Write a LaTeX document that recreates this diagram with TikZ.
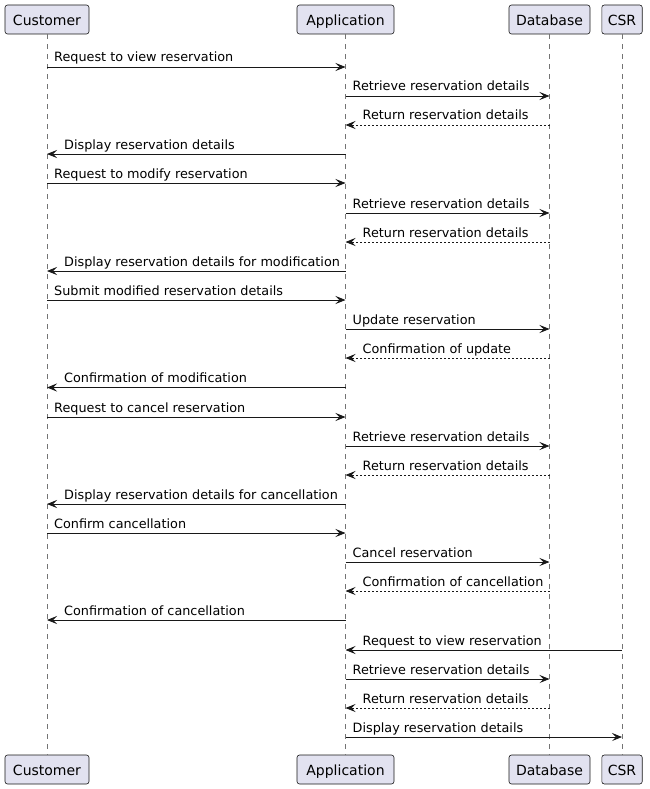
\documentclass[tikz,border=0pt]{standalone}
\usepackage{fontspec}
\setmainfont{DejaVu Sans}
\usepackage{tikz}
\usetikzlibrary{arrows.meta}

\definecolor{partfill}{HTML}{E2E2F0}
\definecolor{ink}{HTML}{181818}

\tikzset{
  participant/.style={draw=ink, fill=partfill, line width=0.6pt, rounded corners=2.5pt,
    minimum height=29pt, inner xsep=6pt, text height=12pt, text depth=0pt,
    font=\fontsize{14}{16}\selectfont},
  lifeline/.style={draw=ink!60, line width=0.5pt, dash pattern=on 5pt off 5pt},
  msg/.style={draw=ink, line width=0.8pt, -{Stealth[length=10pt,width=8pt,inset=4pt]}},
  reply/.style={msg, dash pattern=on 2pt off 2pt},
  msgtext/.style={inner sep=0pt, anchor=base west, text=black, font=\fontsize{12.8}{15}\selectfont},
}

% message left to right: [style]{name}{from}{to}{y}{text}
\newcommand{\msgright}[6][msg]{%
  \coordinate (#2s) at (#3 |- 0,#5);
  \coordinate (#2e) at (#4 |- 0,#5);
  \draw[#1] (#2s) -- (#2e);
  \node[msgtext, xshift=7pt, yshift=5pt] (#2t) at (#2s) {#6};
}
% message right to left: [style]{name}{from}{to}{y}{text}
\newcommand{\msgleft}[6][msg]{%
  \coordinate (#2s) at (#3 |- 0,#5);
  \coordinate (#2e) at (#4 |- 0,#5);
  \draw[#1] (#2s) -- (#2e);
  \node[msgtext, xshift=17pt, yshift=5pt] (#2t) at (#2e) {#6};
}

\begin{document}
\begin{tikzpicture}[x=1pt, y=-1pt]
		\useasboundingbox (0,0) rectangle (649,789);
		% Top
		\node[participant, minimum width=84pt] (Customer) at (47,19.5) {Customer} ;
		\node[participant, minimum width=97pt] (Application) at (345.5,19.5) {Application} ;
		\node[participant, minimum width=81pt] (Database) at (549.5,19.5) {Database} ;
		\node[participant, minimum width=40pt] (CSR) at (622,19.5) {CSR} ;
		% Bottom
		\node[participant, minimum width=84pt] (CustomerB) at (47,769.5) {Customer} ;
		\node[participant, minimum width=97pt] (ApplicationB) at (345.5,769.5) {Application} ;
		\node[participant, minimum width=81pt] (DatabaseB) at (549.5,769.5) {Database} ;
		\node[participant, minimum width=40pt] (CSRB) at (622,769.5) {CSR} ;
		% Lifelines
		\draw[lifeline] (Customer) -- (CustomerB) ;
		\draw[lifeline] (Application) -- (ApplicationB) ;
		\draw[lifeline] (Database) -- (DatabaseB) ;
		\draw[lifeline] (CSR) -- (CSRB) ;
		% View
		\msgright{m1}{Customer}{Application}{67}{Request to view reservation}
		\msgright{m2}{Application}{Database}{96}{Retrieve reservation details}
		\msgleft[reply]{m3}{Database}{Application}{125}{Return reservation details}
		\msgleft{m4}{Application}{Customer}{154}{Display reservation details}
		% Modify
		\msgright{m5}{Customer}{Application}{183}{Request to modify reservation}
		\msgright{m6}{Application}{Database}{213}{Retrieve reservation details}
		\msgleft[reply]{m7}{Database}{Application}{242}{Return reservation details}
		\msgleft{m8}{Application}{Customer}{271}{Display reservation details for modification}
		\msgright{m9}{Customer}{Application}{300}{Submit modified reservation details}
		\msgright{m10}{Application}{Database}{329}{Update reservation}
		\msgleft[reply]{m11}{Database}{Application}{358}{Confirmation of update}
		\msgleft{m12}{Application}{Customer}{387.5}{Confirmation of modification}
		% Cancel
		\msgright{m13}{Customer}{Application}{417}{Request to cancel reservation}
		\msgright{m14}{Application}{Database}{446}{Retrieve reservation details}
		\msgleft[reply]{m15}{Database}{Application}{475}{Return reservation details}
		\msgleft{m16}{Application}{Customer}{504}{Display reservation details for cancellation}
		\msgright{m17}{Customer}{Application}{533}{Confirm cancellation}
		\msgright{m18}{Application}{Database}{562}{Cancel reservation}
		\msgleft[reply]{m19}{Database}{Application}{591}{Confirmation of cancellation}
		\msgleft{m20}{Application}{Customer}{620}{Confirmation of cancellation}
		% CSR
		\msgleft{m21}{CSR}{Application}{650}{Request to view reservation}
		\msgright{m22}{Application}{Database}{679}{Retrieve reservation details}
		\msgleft[reply]{m23}{Database}{Application}{708}{Return reservation details}
		\msgright{m24}{Application}{CSR}{737}{Display reservation details}
	\end{tikzpicture}
\end{document}
